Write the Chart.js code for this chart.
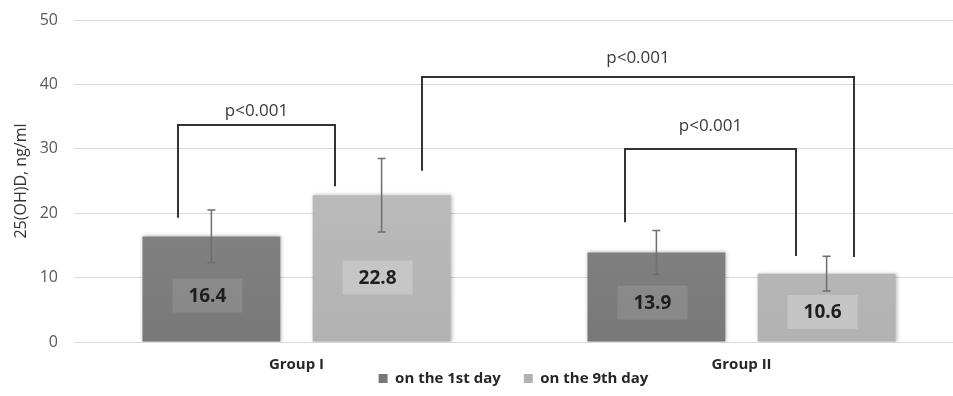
<!DOCTYPE html>
<html>
<head>
<meta charset="utf-8">
<script src="https://cdn.jsdelivr.net/npm/chart.js@4.4.1/dist/chart.umd.min.js"></script>
<style>
  html, body { margin: 0; padding: 0; background: #ffffff; overflow: hidden; }
  #wrap { width: 953px; height: 396px; }
</style>
</head>
<body>
<div id="wrap"><canvas id="c" width="953" height="396"></canvas></div>
<script>
// Serum 25(OH)D by group and day (mean ± SD, ng/ml)
const groups = ['Group I', 'Group II'];
const seriesNames = ['on the 1st day', 'on the 9th day'];
const day1Means = [16.4, 13.9];
const day9Means = [22.8, 10.6];
const day1SD = [4.1, 3.4];
const day9SD = [5.7, 2.7];
const yTicks = [0, 10, 20, 30, 40, 50];

// Significance brackets: each end is [dataset, group, offset within bar (fraction of bar width)]
const bracketText = ['p<0.001', 'p<0.001', 'p<0.001'];
const bracketFrom = [[0, 0, -0.24], [1, 0, 0.29], [0, 1, -0.23]];
const bracketTo = [[1, 0, -0.34], [1, 1, 0.20], [1, 1, -0.22]];
const bracketTop = [33.7, 41.1, 30.0];
const bracketFromEnd = [19.3, 26.6, 18.6];
const bracketToEnd = [24.2, 13.2, 13.35];
const bracketTextLift = [9, 14, 18];

const sdSets = [day1SD, day9SD];

function barGradient(ctx, top, bottom) {
  const chart = ctx.chart;
  const area = chart.chartArea;
  if (!area) return top;
  const g = chart.ctx.createLinearGradient(0, area.top, 0, area.bottom);
  g.addColorStop(0, top);
  g.addColorStop(1, bottom);
  return g;
}

// The plot runs a little past the right edge of the canvas, so the
// category axis (and the horizontal grid) is stretched after layout.
const overflowPlugin = {
  id: 'plotOverflow',
  afterLayout(chart) {
    const extra = 11;
    const x = chart.scales.x;
    x.right += extra;
    x.width += extra;
    x.configure();
    chart.chartArea.right += extra;
    chart.chartArea.width += extra;
  }
};

const shadowPlugin = {
  id: 'barShadow',
  beforeDatasetDraw(chart) {
    const c = chart.ctx;
    c.save();
    c.shadowColor = 'rgba(0,0,0,0.28)';
    c.shadowBlur = 4;
    c.shadowOffsetX = 1;
    c.shadowOffsetY = 0;
  },
  afterDatasetDraw(chart) {
    chart.ctx.restore();
  }
};

const overlayPlugin = {
  id: 'overlay',
  afterDatasetsDraw(chart) {
    const c = chart.ctx;
    const y = chart.scales.y;

    // value boxes inside bars
    const boxFill = ['rgba(155,155,155,0.45)', 'rgba(212,212,212,0.55)'];
    chart.data.datasets.forEach((ds, di) => {
      const meta = chart.getDatasetMeta(di);
      meta.data.forEach((bar, i) => {
        const v = ds.data[i];
        const cy = y.getPixelForValue(v * 0.44);
        const cx = bar.x - 4;
        c.save();
        c.fillStyle = boxFill[di];
        c.fillRect(cx - 35, cy - 17, 70, 34);
        c.fillStyle = '#1e1e1e';
        c.font = 'bold 19px "Open Sans"';
        c.textAlign = 'center';
        c.textBaseline = 'middle';
        c.fillText(v.toFixed(1), cx, cy + 1);
        c.restore();
      });
    });

    // error bars
    c.save();
    c.strokeStyle = '#6e6e6e';
    c.lineWidth = 1.5;
    chart.data.datasets.forEach((ds, di) => {
      const meta = chart.getDatasetMeta(di);
      meta.data.forEach((bar, i) => {
        const v = ds.data[i];
        const sd = sdSets[di][i];
        const yt = y.getPixelForValue(v + sd);
        const yb = y.getPixelForValue(v - sd);
        c.beginPath();
        c.moveTo(bar.x, yt); c.lineTo(bar.x, yb);
        c.moveTo(bar.x - 4, yt); c.lineTo(bar.x + 4, yt);
        c.moveTo(bar.x - 4, yb); c.lineTo(bar.x + 4, yb);
        c.stroke();
      });
    });
    c.restore();

    // significance brackets
    const px = (ref) => {
      const bar = chart.getDatasetMeta(ref[0]).data[ref[1]];
      return bar.x + ref[2] * bar.width;
    };
    c.save();
    c.strokeStyle = '#333333';
    c.lineWidth = 2;
    c.fillStyle = '#3a3a3a';
    c.font = '17px "Open Sans"';
    c.textAlign = 'center';
    c.textBaseline = 'alphabetic';
    bracketText.forEach((t, k) => {
      const x1 = Math.round(px(bracketFrom[k]));
      const x2 = Math.round(px(bracketTo[k]));
      const yt = Math.round(y.getPixelForValue(bracketTop[k]));
      c.beginPath();
      c.moveTo(x1, y.getPixelForValue(bracketFromEnd[k]));
      c.lineTo(x1, yt);
      c.lineTo(x2, yt);
      c.lineTo(x2, y.getPixelForValue(bracketToEnd[k]));
      c.stroke();
      c.fillText(t, (x1 + x2) / 2, yt - bracketTextLift[k]);
    });
    c.restore();
  }
};

new Chart(document.getElementById('c'), {
  type: 'bar',
  data: {
    labels: groups,
    datasets: [
      {
        label: seriesNames[0],
        data: day1Means,
        backgroundColor: (ctx) => barGradient(ctx, '#929292', '#787878'),
        borderWidth: 0
      },
      {
        label: seriesNames[1],
        data: day9Means,
        backgroundColor: (ctx) => barGradient(ctx, '#c4c4c4', '#b2b2b2'),
        borderWidth: 0
      }
    ]
  },
  options: {
    responsive: false,
    animation: false,
    devicePixelRatio: 1,
    layout: { padding: { left: 0, right: 0, top: 20, bottom: 0 } },
    datasets: {
      bar: { categoryPercentage: 0.765, barPercentage: 0.81 }
    },
    scales: {
      x: {
        grid: { display: false, drawTicks: false },
        border: { display: true, color: '#d9d9d9', width: 1 },
        ticks: {
          mirror: true,
          padding: -32,
          color: '#262626',
          font: { family: 'Open Sans', size: 15, weight: 'bold' }
        },
        afterFit(scale) { scale.height = 6; }
      },
      y: {
        min: 0,
        max: 50,
        afterBuildTicks(scale) { scale.ticks = yTicks.map(v => ({ value: v })); },
        grid: { color: '#d9d9d9', lineWidth: 1, drawTicks: false },
        border: { display: false },
        ticks: {
          padding: 16,
          color: '#595959',
          font: { family: 'Open Sans', size: 16 }
        },
        title: {
          display: true,
          text: '25(OH)D, ng/ml',
          color: '#333333',
          font: { family: 'Open Sans', size: 16 },
          padding: { top: 12, bottom: 0 }
        },
        afterFit(scale) {
          scale.width = 74;
          scale.paddingTop = 0;
          scale.paddingBottom = 0;
        }
      }
    },
    plugins: {
      legend: {
        position: 'bottom',
        fullSize: false,
        labels: {
          boxWidth: 9,
          boxHeight: 9,
          padding: 23,
          color: '#262626',
          font: { family: 'Open Sans', size: 15, weight: 'bold' }
        }
      },
      tooltip: { enabled: false }
    }
  },
  plugins: [overflowPlugin, shadowPlugin, overlayPlugin]
});
</script>
</body>
</html>
